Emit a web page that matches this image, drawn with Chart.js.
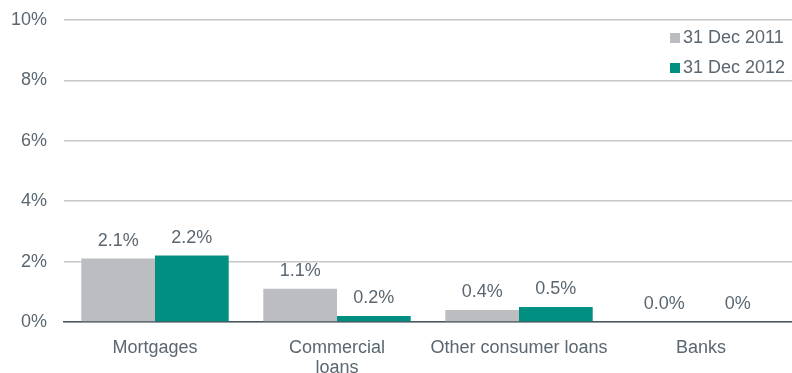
<!DOCTYPE html>
<html lang="en">
<head>
  <meta charset="UTF-8">
  <title>Loan losses by segment</title>
  <script src="https://cdn.jsdelivr.net/npm/chart.js"></script>
  <style>
    html, body { margin: 0; padding: 0; background: #ffffff; }
    .wrap { width: 792px; height: 373px; position: relative; }
  </style>
</head>
<body>
  <div class="wrap"><canvas id="lossChart"></canvas></div>

  <script>
// Chart data
const categories = [['Mortgages'], ['Commercial', 'loans'], ['Other consumer loans'], ['Banks']];
const series2011 = [2.1, 1.1, 0.4, 0.0];
const series2012 = [2.2, 0.2, 0.5, 0.0];
const labels2011 = ['2.1%', '1.1%', '0.4%', '0.0%'];
const labels2012 = ['2.2%', '0.2%', '0.5%', '0%'];
const seriesNames = ['31 Dec 2011', '31 Dec 2012'];

const textColor = '#5b6770';
const fontFamily = "'Liberation Sans', Arial, sans-serif";

// value labels above bars + legend at the top right
const valueLabels = {
  id: 'valueLabels',
  afterDatasetsDraw(chart) {
    const ctx = chart.ctx;
    ctx.save();
    ctx.font = '18px ' + fontFamily;
    ctx.fillStyle = textColor;
    ctx.textAlign = 'center';
    ctx.textBaseline = 'bottom';
    chart.data.datasets.forEach((ds, i) => {
      chart.getDatasetMeta(i).data.forEach((bar, j) => {
        ctx.fillText(ds.valueLabels[j], bar.x, bar.y - 9);
      });
    });

    // legend
    const right = chart.chartArea.right;
    ctx.textAlign = 'left';
    ctx.textBaseline = 'middle';
    chart.data.datasets.forEach((ds, i) => {
      const y = 38 + i * 30;
      ctx.fillStyle = ds.backgroundColor;
      ctx.fillRect(right - 122, y - 5, 10, 10);
      ctx.fillStyle = textColor;
      ctx.fillText(ds.label, right - 109, y);
    });
    ctx.restore();
  }
};

new Chart(document.getElementById('lossChart'), {
  type: 'bar',
  data: {
    labels: categories,
    datasets: [
      {
        label: seriesNames[0],
        data: series2011,
        valueLabels: labels2011,
        backgroundColor: '#bbbdc1',
        categoryPercentage: 0.81,
        barPercentage: 1.0
      },
      {
        label: seriesNames[1],
        data: series2012,
        valueLabels: labels2012,
        backgroundColor: '#008f81',
        categoryPercentage: 0.81,
        barPercentage: 1.0
      }
    ]
  },
  options: {
    responsive: true,
    maintainAspectRatio: false,
    animation: false,
    layout: { padding: { top: 20, right: 0, left: 0, bottom: 0 } },
    plugins: {
      legend: { display: false },
      tooltip: { enabled: false }
    },
    scales: {
      x: {
        afterFit: s => { s.height = 51; },
        grid: { display: false, drawTicks: false },
        border: { display: true, color: '#4a565e', width: 1.5 },
        ticks: {
          color: textColor,
          font: { family: fontFamily, size: 18, lineHeight: 1.1 },
          padding: 16,
          maxRotation: 0
        }
      },
      y: {
        min: 0,
        max: 10,
        afterFit: s => { s.width = 64; s.paddingTop = 0; s.paddingBottom = 0; },
        grid: { color: '#c6c8ca', lineWidth: 1.5, drawTicks: false },
        border: { display: false },
        ticks: {
          stepSize: 2,
          color: textColor,
          font: { family: fontFamily, size: 18 },
          padding: 17,
          callback: v => v + '%'
        }
      }
    }
  },
  plugins: [valueLabels]
});
  </script>
</body>
</html>
